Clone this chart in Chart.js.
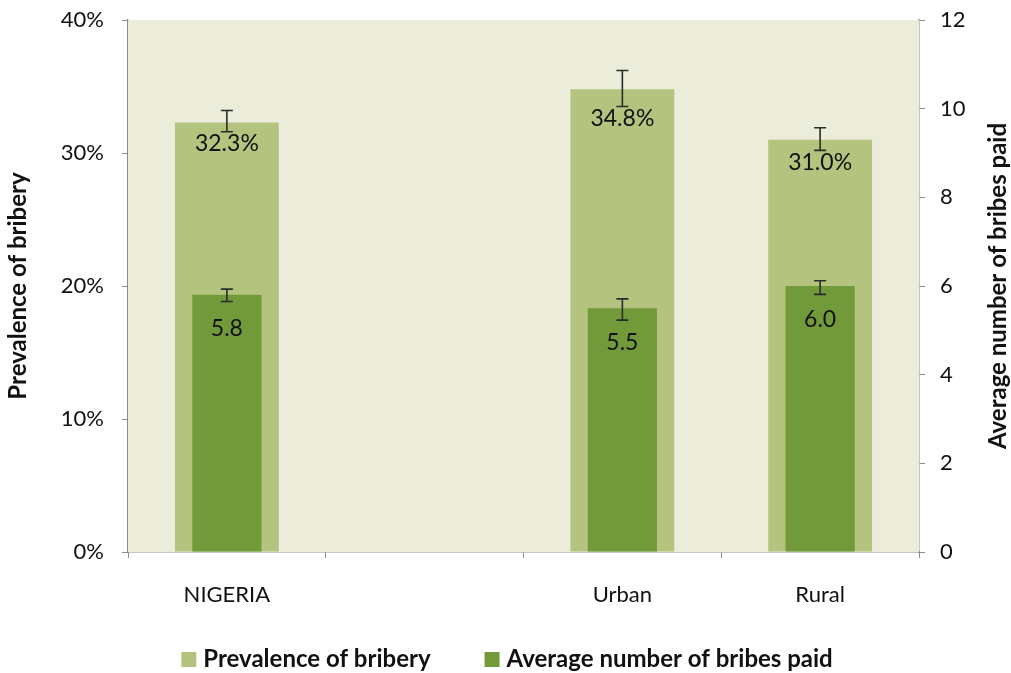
<!DOCTYPE html>
<html>
<head>
<meta charset="utf-8">
<script src="https://cdn.jsdelivr.net/npm/chart.js@4.4.1/dist/chart.umd.min.js"></script>
<style>
  html, body { margin: 0; padding: 0; background: #fff; }
  #wrap { width: 1011px; height: 673px; }
</style>
</head>
<body>
<div id="wrap"><canvas id="bribeChart" width="1011" height="673"></canvas></div>
<script>
const categories = ['NIGERIA', '', 'Urban', 'Rural'];
const prevalence = [32.3, null, 34.8, 31.0];
const prevalenceLow = [31.6, null, 33.5, 30.2];
const prevalenceHigh = [33.2, null, 36.2, 31.9];
const avgBribes = [5.8, null, 5.5, 6.0];
const avgBribesLow = [5.65, null, 5.23, 5.81];
const avgBribesHigh = [5.93, null, 5.71, 6.12];
const leftTicks = [0, 10, 20, 30, 40];
const rightTicks = [0, 2, 4, 6, 8, 10, 12];

const FONT = 'Lato, "Open Sans", sans-serif';
const axisGray = '#8c8c8c';

// plot background, error bars, value labels, right axis title, legend
const extras = {
    id: 'extras',
    beforeDatasetsDraw(chart) {
        const a = chart.chartArea;
        const ctx = chart.ctx;
        ctx.save();
        ctx.fillStyle = '#ebedda';
        ctx.fillRect(a.left, a.top, a.right - a.left, a.bottom - a.top);
        ctx.restore();
    },
    afterDatasetsDraw(chart) {
        const ctx = chart.ctx;
        const errs = [[prevalenceLow, prevalenceHigh], [avgBribesLow, avgBribesHigh]];
        chart.data.datasets.forEach((ds, di) => {
            const meta = chart.getDatasetMeta(di);
            const yScale = chart.scales[ds.yAxisID];
            meta.data.forEach((bar, i) => {
                if (ds.data[i] == null) return;
                const x = bar.x;
                const yLo = yScale.getPixelForValue(errs[di][0][i]);
                const yHi = yScale.getPixelForValue(errs[di][1][i]);

                ctx.save();
                ctx.fillStyle = '#111';
                ctx.font = '23px ' + FONT;
                ctx.textAlign = 'center';
                ctx.textBaseline = 'middle';
                const txt = di === 0 ? ds.data[i].toFixed(1) + '%' : ds.data[i].toFixed(1);
                const ly = di === 0 ? yLo + 12 : bar.y + 34;
                ctx.fillText(txt, x, ly);
                ctx.restore();

                ctx.save();
                ctx.strokeStyle = '#2b2b2b';
                ctx.lineWidth = 1.6;
                ctx.beginPath();
                ctx.moveTo(x, yLo); ctx.lineTo(x, yHi);
                ctx.moveTo(x - 6, yLo); ctx.lineTo(x + 6, yLo);
                ctx.moveTo(x - 6, yHi); ctx.lineTo(x + 6, yHi);
                ctx.stroke();
                ctx.restore();
            });
        });
    },
    afterDraw(chart) {
        const a = chart.chartArea;
        const ctx = chart.ctx;
        ctx.save();
        ctx.translate(998, (a.top + a.bottom) / 2);
        ctx.rotate(-Math.PI / 2);
        ctx.fillStyle = '#111';
        ctx.font = 'bold 24px ' + FONT;
        ctx.textAlign = 'center';
        ctx.textBaseline = 'middle';
        ctx.fillText('Average number of bribes paid', 0, 0);
        ctx.restore();

        // legend
        ctx.save();
        ctx.font = 'bold 24px ' + FONT;
        ctx.textBaseline = 'middle';
        const items = chart.data.datasets.map(ds => ({ text: ds.label, color: ds.backgroundColor, w: ctx.measureText(ds.label).width }));
        const box = 15, gapIn = 7, gapOut = 54;
        const total = items.reduce((s, it) => s + box + gapIn + it.w, 0) + gapOut * (items.length - 1);
        let x = 507 - total / 2;
        const cy = 659;
        items.forEach(it => {
            ctx.fillStyle = it.color;
            ctx.fillRect(x, cy - 7, box, box);
            x += box + gapIn;
            ctx.fillStyle = '#111';
            ctx.fillText(it.text, x, cy);
            x += it.w + gapOut;
        });
        ctx.restore();
    }
};

const fitY = w => s => { s.width = w; s.paddingTop = 0; s.paddingBottom = 0; };

const ctx = document.getElementById('bribeChart').getContext('2d');
new Chart(ctx, {
    type: 'bar',
    data: {
        labels: categories,
        datasets: [{
            label: 'Prevalence of bribery',
            data: prevalence,
            backgroundColor: '#b4c47e',
            yAxisID: 'y',
            grouped: false,
            order: 2,
            categoryPercentage: 1,
            barPercentage: 0.525
        }, {
            label: 'Average number of bribes paid',
            data: avgBribes,
            backgroundColor: '#739a3a',
            yAxisID: 'y2',
            grouped: false,
            order: 1,
            categoryPercentage: 1,
            barPercentage: 0.35
        }]
    },
    options: {
        responsive: false,
        animation: false,
        layout: { padding: { top: 20, left: 0, right: 0, bottom: 0 } },
        scales: {
            x: {
                grid: { offset: true, drawOnChartArea: false, drawTicks: true, tickLength: 6, color: axisGray },
                border: { color: axisGray, width: 1.5 },
                ticks: { color: '#111', font: { family: FONT, size: 22 }, padding: 24, maxRotation: 0 },
                afterFit: s => { s.height = 121; s.paddingLeft = 0; s.paddingRight = 0; }
            },
            y: {
                position: 'left',
                min: 0, max: 40,
                afterBuildTicks: s => { s.ticks = leftTicks.map(v => ({ value: v })); },
                ticks: { color: '#111', font: { family: FONT, size: 22 }, padding: 18, callback: v => v + '%' },
                grid: { drawOnChartArea: false, tickLength: 6, color: axisGray },
                border: { color: axisGray, width: 1.5 },
                title: { display: true, text: 'Prevalence of bribery', color: '#111', font: { family: FONT, size: 24, weight: 'bold' }, padding: { top: 4, bottom: 0 } },
                afterFit: fitY(128)
            },
            y2: {
                position: 'right',
                min: 0, max: 12,
                afterBuildTicks: s => { s.ticks = rightTicks.map(v => ({ value: v })); },
                ticks: { color: '#111', font: { family: FONT, size: 22 }, padding: 15 },
                grid: { drawOnChartArea: false, tickLength: 6, color: axisGray },
                border: { color: axisGray, width: 1.5 },
                afterFit: fitY(92)
            }
        },
        plugins: {
            legend: { display: false },
            tooltip: { enabled: false }
        }
    },
    plugins: [extras]
});
</script>
</body>
</html>
